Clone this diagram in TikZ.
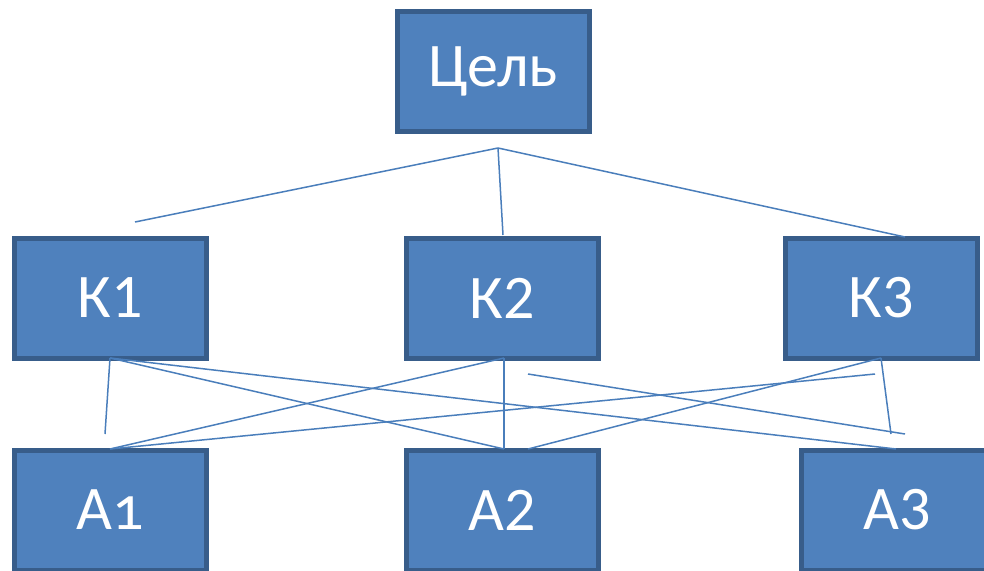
\documentclass[tikz,border=0pt]{standalone}
\usepackage{fontspec}
\setmainfont{Carlito}
\begin{document}
\begin{tikzpicture}[x=1pt,y=-1pt,
  block/.style={draw=boxedge, fill=boxfill, line width=5pt,
    minimum width=192pt, minimum height=120pt, inner sep=0pt,
    text=white, font=\fontsize{62}{62}\selectfont},
  link/.style={draw=linkblue, line width=1.5pt}]
\definecolor{boxfill}{HTML}{4F81BD}
\definecolor{boxedge}{HTML}{385D8A}
\definecolor{linkblue}{HTML}{4A7EBB}
\useasboundingbox (0,0) rectangle (984,570);
\clip (0,0) rectangle (984,570);

% goal, criteria, alternatives
\node[block] (goal) at (493,71) {Цель};
\node[block] (k1) at (110,298) {К1};
\node[block] (k2) at (502.5,298) {К2};
\node[block] (k3) at (881.5,298) {К3};
\node[block] (a1) at (110,510) {А{\addfontfeature{Numbers=OldStyle}1}};
\node[block] (a2) at (502.5,510) {А2};
\node[block, minimum width=212pt] (a3) at (907,510) {\hspace*{-20pt}А3};

% free ends of the links
\coordinate (hub) at (498,148);
\coordinate (h1) at (135,222);
\coordinate (h2) at (503,235);
\coordinate (h3) at (905,237);
\coordinate (k1b) at (110,358);
\coordinate (k2b) at (504,358);
\coordinate (k3b) at (881,358);
\coordinate (a1t) at (110,449);
\coordinate (a2t) at (504,449);
\coordinate (a2r) at (528,449);
\coordinate (a3t) at (896,449);
\coordinate (e1) at (105,434);
\coordinate (e2) at (891,434);
\coordinate (f1) at (528,374);
\coordinate (f2) at (905,434);
\coordinate (g1) at (875,374);

% goal to criteria
\draw[link] (hub) -- (h1);
\draw[link] (hub) -- (h2);
\draw[link] (hub) -- (h3);

% criteria to alternatives
\draw[link] (k1b) -- (e1);
\draw[link] (k1b) -- (a2t);
\draw[link] (k1b) -- (a3t);
\draw[link] (k2b) -- (a1t);
\draw[link] (k2b) -- (a2t);
\draw[link] (k3b) -- (a2r);
\draw[link] (k3b) -- (e2);
\draw[link] (f1) -- (f2);
\draw[link] (a1t) -- (g1);
\end{tikzpicture}
\end{document}
